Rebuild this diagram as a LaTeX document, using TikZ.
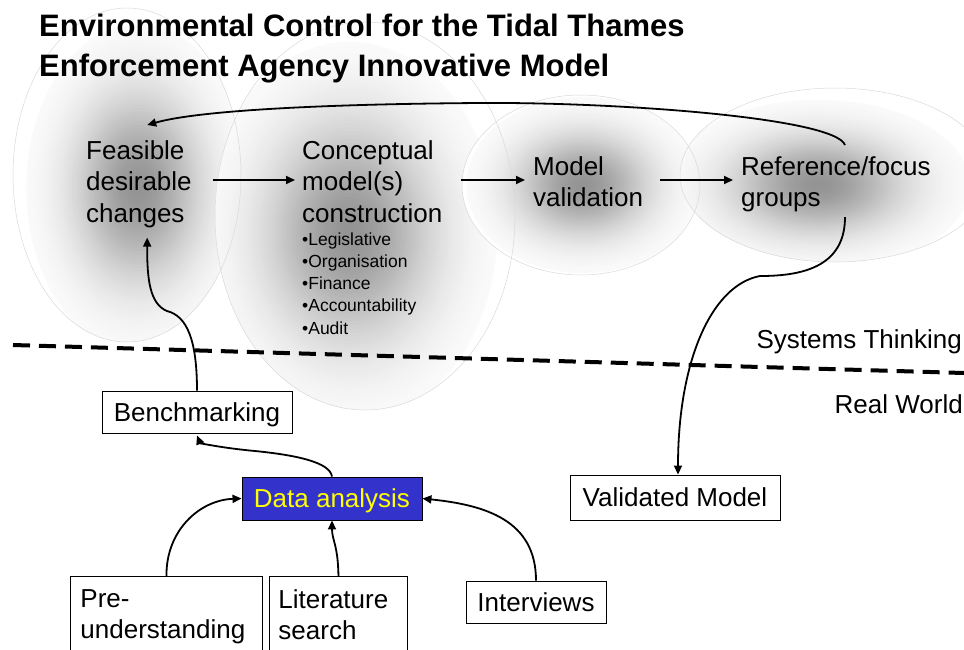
\documentclass[tikz,border=0pt]{standalone}
\usepackage{fontspec}
\setmainfont{Liberation Sans}
\usetikzlibrary{arrows.meta,calc}

\definecolor{dablue}{HTML}{3333CC}
\definecolor{dayellow}{HTML}{FFFF00}

% a white ellipse (centre #1,#2, radii #3,#4) with a soft grey glow
% around the point (#5,#6), built from nested ellipses kept inside it
\newcommand{\glowblob}[6]{%
  \begin{scope}
  \clip (#1,#2) ellipse [x radius=#3pt, y radius=#4pt];
  \fill[white] (#1,#2) ellipse [x radius=#3pt, y radius=#4pt];
  \foreach \s in {0.98,0.96,...,0.01}{%
    \pgfmathsetmacro{\gv}{42*exp(-(\s/0.56)^2)}%
    \pgfmathsetmacro{\rx}{\s*#3}%
    \pgfmathsetmacro{\ry}{\s*#4}%
    \fill[black!\gv] (#5,#6) ellipse [x radius=\rx pt, y radius=\ry pt];
  }
  \end{scope}}

\tikzset{
  rim/.style={draw=black!15, line width=0.5pt},
  lbl/.style={inner sep=0pt, anchor=north west, align=left,
              font=\fontsize{26}{31.5}\selectfont},
  small/.style={inner sep=0pt, anchor=north west, align=left,
              font=\fontsize{17.5}{22.2}\selectfont},
  box/.style={draw, line width=0.9pt, fill=white, inner sep=0pt,
              text height=23.5pt, text depth=5.5pt,
              font=\fontsize{26}{31.5}\selectfont},
  tallbox/.style={draw, line width=0.9pt, fill=white, anchor=north west,
              align=left, inner ysep=13pt,
              font=\fontsize{26}{31.5}\selectfont},
  arr/.style={line width=1.8pt, -{Triangle[length=9pt,width=8pt]}},
}

\begin{document}
\begin{tikzpicture}[x=1pt,y=-1pt]
\useasboundingbox (0,0) rectangle (964,649);
\begin{scope}
\clip (0,0) rectangle (964,649);

% shaded regions behind the process steps
\glowblob{127}{175}{114}{167}{138}{188}
\glowblob{365}{216}{150}{194}{350}{232}
\glowblob{581}{185}{119}{90}{583}{185}
\glowblob{835}{175}{155}{87}{818}{185}
\draw[rim] (127,175) ellipse [x radius=114pt, y radius=167pt];
\draw[rim] (365,216) ellipse [x radius=150pt, y radius=194pt];
\draw[rim] (581,185) ellipse [x radius=119pt, y radius=90pt];
\draw[rim] (835,175) ellipse [x radius=155pt, y radius=87pt];

% title
\node[inner sep=0pt, anchor=north west, align=left,
      font=\bfseries\fontsize{31}{40}\selectfont] (title) at (39,14)
  {Environmental Control for the Tidal Thames\\Enforcement Agency Innovative Model};

% process steps
\node[lbl] (feas) at (86,140.4) {Feasible\\desirable\\changes};
\node[lbl] (conc) at (302,140.2) {Conceptual\\model(s)\\construction};
\node[small] (clist) at (302,232.5)
  {•Legislative\\•Organisation\\•Finance\\•Accountability\\•Audit};
\node[lbl] (valid) at (533,156.4) {Model\\validation};
\node[lbl] (ref) at (741,156) {Reference/focus\\groups};

% boundary between the two worlds
\coordinate (sepL) at (13,345);
\coordinate (sepR) at (964,373);
\draw[line width=4pt, dash pattern=on 17pt off 9pt] (sepL) -- (sepR);
\node[inner sep=0pt, anchor=base east, font=\fontsize{26}{31.5}\selectfont]
  (sys) at (962,348) {Systems Thinking};
\node[inner sep=0pt, anchor=base east, font=\fontsize{26}{31.5}\selectfont]
  (rw) at (963,413) {Real World};

% real-world boxes
\node[box, minimum width=190pt, minimum height=42pt] (bench) at (197,412) {Benchmarking};
\node[box, minimum width=180pt, minimum height=43pt, fill=dablue, text=dayellow]
  (data) at (332,498.5) {Data analysis};
\node[box, minimum width=210pt, minimum height=45pt] (vmod) at (675,497.5) {Validated Model};
\node[box, minimum width=140pt, minimum height=42pt] (intv) at (536,602) {Interviews};
\node[tallbox, inner xsep=10pt, text width=172pt] (pre) at (70,576) {Pre-\\understanding};
\node[tallbox, inner xsep=9pt, text width=120pt] (lit) at (269,576) {Literature\\search};

% main flow
\coordinate (row) at (0,180);
\draw[arr] ($(feas.east |- row)+(21.5,0)$) -- ($(conc.west |- row)+(-7,0)$);
\draw[arr] ($(conc.east |- row)+(18,0)$) -- ($(valid.west |- row)+(-8,0)$);
\draw[arr] ($(valid.east |- row)+(17,0)$) -- ($(ref.west |- row)+(-8,0)$);

% feedback loop back to the start
\draw[arr] ($(ref.north west)+(104,-11)$)
  .. controls (835,118) and (620,102) .. (480,103)
  .. controls (330,104) and (200,110) .. ($(feas.north)+(8.25,-15.4)$);

% down to the validated model
\draw[arr] ($(ref.south west)+(104,5)$)
  .. controls (845,268) and (800,276) .. (760,276)
  .. controls (712,285) and (678,360) .. ($(vmod.north)+(3,0)$);

% benchmarking feeds the feasible changes
\draw[arr] (bench.north)
  .. controls (197,340) and (187,316) .. (167,311)
  .. controls (150,304) and (147,280) .. ($(feas.south)+(8.25,9.5)$);

% data analysis feeds benchmarking
\draw[arr] (data.north)
  .. controls (330,462) and (295,455) .. (255,451)
  .. controls (222,448) and (200,443) .. ($(bench.south)+(0,2)$);

% sources of data
\draw[arr] (pre.north) .. controls (166,530) and (200,500) .. (data.west);
\draw[arr] (lit.north) .. controls (338,545) and (332,540) .. (data.south);
\draw[arr] (intv.north) .. controls (536,520) and (485,505) .. (data.east);
\end{scope}
\end{tikzpicture}
\end{document}
